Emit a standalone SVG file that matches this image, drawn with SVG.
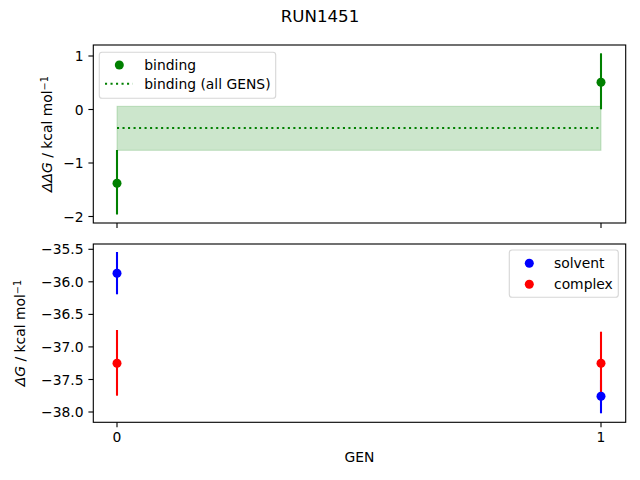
<svg xmlns="http://www.w3.org/2000/svg" width="640" height="480" viewBox="0 0 640 480">
<style>
text{font-family:"DejaVu Sans","Liberation Sans",sans-serif;fill:#000}
.t{font-size:13.89px}
.yl{text-anchor:end}
.xl{text-anchor:middle}
.frame{fill:none;stroke:#000;stroke-width:1.11}
.tick{stroke:#000;stroke-width:1.11}
.eg{stroke:#008000;stroke-width:2.08}
.eb{stroke:#0000ff;stroke-width:2.08}
.er{stroke:#ff0000;stroke-width:2.08}
.leg{fill:#fff;fill-opacity:0.8;stroke:#ccc;stroke-opacity:0.8;stroke-width:1.11}
.dot{stroke:#008000;stroke-width:2.08;stroke-dasharray:2.08 3.43}
</style>
<rect width="640" height="480" fill="#fff"/>
<text x="320" y="22" text-anchor="middle" style="font-size:16.67px">RUN1451</text>

<g id="top-axes">
  <rect x="117" y="106.3" width="484" height="44" fill="#008000" fill-opacity="0.2" stroke="#008000" stroke-opacity="0.2" stroke-width="1"/>
  <line class="dot" x1="117" y1="128" x2="601" y2="128"/>
  <g id="binding">
    <line class="eg" x1="117" y1="150" x2="117" y2="214.5"/>
    <line class="eg" x1="601" y1="53.3" x2="601" y2="109.3"/>
    <circle cx="117" cy="183.2" r="4.5" fill="#008000"/>
    <circle cx="601" cy="82.3" r="4.5" fill="#008000"/>
  </g>
  <rect class="frame" x="93.3" y="45" width="532.4" height="178"/>
  <g class="tick">
    <line x1="88.4" y1="56" x2="93.3" y2="56"/>
    <line x1="88.4" y1="109.5" x2="93.3" y2="109.5"/>
    <line x1="88.4" y1="163" x2="93.3" y2="163"/>
    <line x1="88.4" y1="216.5" x2="93.3" y2="216.5"/>
    <line x1="117" y1="223" x2="117" y2="227.9"/>
    <line x1="601" y1="223" x2="601" y2="227.9"/>
  </g>
  <g class="t yl">
    <text x="83.6" y="61">1</text>
    <text x="83.6" y="114.5">0</text>
    <text x="83.6" y="168">−1</text>
    <text x="83.6" y="221.5">−2</text>
  </g>
  <text class="t" transform="translate(52,134) rotate(-90)" text-anchor="middle"><tspan font-style="italic">ΔΔG</tspan> / kcal mol<tspan baseline-shift="40%" style="font-size:9.7px">−1</tspan></text>
  <g id="legend-top">
    <rect class="leg" x="99.3" y="52.3" width="176.4" height="46" rx="2.8"/>
    <circle cx="119.3" cy="65" r="4.5" fill="#008000"/>
    <text class="t" x="144.3" y="70">binding</text>
    <line class="dot" x1="105" y1="83.7" x2="132.7" y2="83.7"/>
    <text class="t" x="144.3" y="88.7">binding (all GENS)</text>
  </g>
</g>

<g id="bottom-axes">
  <g id="connectors">
    <line class="eb" x1="117" y1="252" x2="117" y2="294.3"/>
    <line class="eb" x1="601" y1="379.3" x2="601" y2="413.3"/>
    <line class="er" x1="117" y1="330" x2="117" y2="395.7"/>
    <line class="er" x1="601" y1="331.7" x2="601" y2="395"/>
  </g>
  <g id="complex">
    <circle cx="117" cy="363.3" r="4.5" fill="#ff0000"/>
    <circle cx="601" cy="363.3" r="4.5" fill="#ff0000"/>
  </g>
  <g id="solvent">
    <circle cx="117" cy="273.3" r="4.5" fill="#0000ff"/>
    <circle cx="601" cy="396.3" r="4.5" fill="#0000ff"/>
  </g>
  <rect class="frame" x="93.3" y="244" width="532.4" height="178.3"/>
  <g class="tick">
    <line x1="88.4" y1="249.3" x2="93.3" y2="249.3"/>
    <line x1="88.4" y1="281.8" x2="93.3" y2="281.8"/>
    <line x1="88.4" y1="314.4" x2="93.3" y2="314.4"/>
    <line x1="88.4" y1="346.9" x2="93.3" y2="346.9"/>
    <line x1="88.4" y1="379.5" x2="93.3" y2="379.5"/>
    <line x1="88.4" y1="412" x2="93.3" y2="412"/>
    <line x1="117" y1="422.3" x2="117" y2="427.2"/>
    <line x1="601" y1="422.3" x2="601" y2="427.2"/>
  </g>
  <g class="t yl">
    <text x="83.6" y="254.3">−35.5</text>
    <text x="83.6" y="286.8">−36.0</text>
    <text x="83.6" y="319.4">−36.5</text>
    <text x="83.6" y="351.9">−37.0</text>
    <text x="83.6" y="384.5">−37.5</text>
    <text x="83.6" y="417">−38.0</text>
  </g>
  <g class="t xl">
    <text x="117" y="441.7">0</text>
    <text x="601" y="441.7">1</text>
  </g>
  <text class="t" x="359.5" y="462" text-anchor="middle">GEN</text>
  <text class="t" transform="translate(24.5,333) rotate(-90)" text-anchor="middle"><tspan font-style="italic">ΔG</tspan> / kcal mol<tspan baseline-shift="40%" style="font-size:9.7px">−1</tspan></text>
  <g id="legend-bottom">
    <rect class="leg" x="509.3" y="250" width="109" height="47.3" rx="2.8"/>
    <circle cx="529.3" cy="263.3" r="4.5" fill="#0000ff"/>
    <text class="t" x="554" y="268.3">solvent</text>
    <circle cx="529.3" cy="284.3" r="4.5" fill="#ff0000"/>
    <text class="t" x="554" y="289.3">complex</text>
  </g>
</g>
</svg>
